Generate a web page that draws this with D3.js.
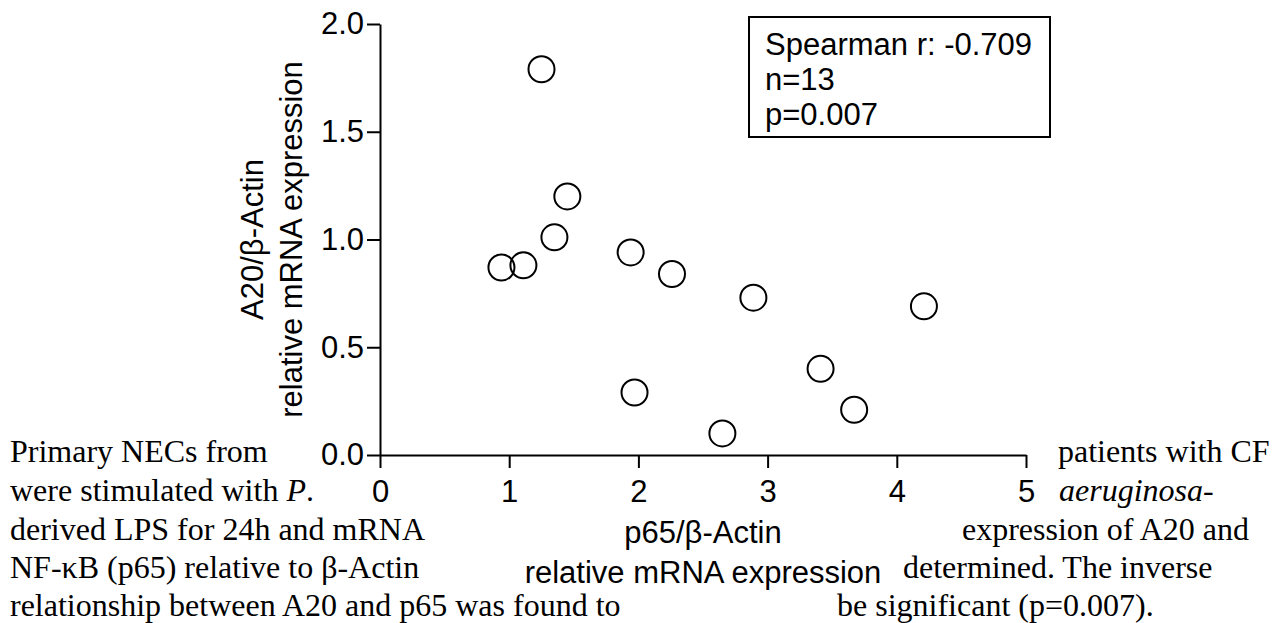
<!DOCTYPE html>
<html>
<head>
<meta charset="utf-8">
<script src="https://cdn.jsdelivr.net/npm/d3@7"></script>
<style>
  html, body { margin: 0; padding: 0; background: #fff; }
  svg { display: block; }
</style>
</head>
<body>
<svg id="chart" width="1281" height="623"></svg>
<script>
// ---- data ----
const p65 = [0.94, 1.11, 1.25, 1.35, 1.45, 1.94, 1.97, 2.26, 2.65, 2.89, 3.41, 3.67, 4.21];
const a20 = [0.87, 0.88, 1.79, 1.01, 1.20, 0.94, 0.29, 0.84, 0.10, 0.73, 0.40, 0.21, 0.69];
const xTicks = [0, 1, 2, 3, 4, 5];
const yTicks = [0, 0.5, 1.0, 1.5, 2.0];
const xLabelLines = ["p65/\u03B2-Actin", "relative mRNA expression"];
const yLabelLines = ["A20/\u03B2-Actin", "relative mRNA expression"];
const statLines = ["Spearman r: -0.709", "n=13", "p=0.007"];
const leftText = [
  [["Primary NECs from", false]],
  [["were stimulated with ", false], ["P", true], [".", false]],
  [["derived LPS for 24h and mRNA", false]],
  [["NF-\u03BAB (p65) relative to \u03B2-Actin", false]],
  [["relationship between A20 and p65 was found to", false]]
];
const rightText = [
  [["patients with CF", false]],
  [["aeruginosa", true], ["-", false]],
  [["expression of A20 and", false]],
  [["determined. The inverse", false]],
  [["be significant (p=0.007).", false]]
];
const rightStarts = [1058, 1059, 962, 903, 837];
const textBaselines = [462, 501, 540, 578, 616];

const svg = d3.select("#chart");
svg.append("rect").attr("width", 1281).attr("height", 623).attr("fill", "#fff");

const sans = "'Liberation Sans', Arial, Helvetica, sans-serif";
const serif = "'Liberation Serif', 'Times New Roman', Times, serif";
const fs = 31;

// ---- body paragraph fragments ----
function drawFrag(lines, xs, anchor) {
  lines.forEach((parts, i) => {
    const t = svg.append("text")
      .attr("x", Array.isArray(xs) ? xs[i] : xs)
      .attr("y", textBaselines[i])
      .attr("text-anchor", anchor)
      .attr("font-family", serif)
      .attr("font-size", 32)
      .attr("fill", "#000");
    parts.forEach(([s, it]) => {
      t.append("tspan").attr("font-style", it ? "italic" : "normal").text(s);
    });
  });
}
drawFrag(leftText, 10, "start");
drawFrag(rightText, rightStarts, "start");

// ---- scales ----
const x = d3.scaleLinear().domain([0, 5]).range([380, 1026]);
const y = d3.scaleLinear().domain([0, 2]).range([455, 24]);

// ---- axes ----
const gx = svg.append("g").attr("transform", `translate(0,${y(0)})`)
  .call(d3.axisBottom(x).tickValues(xTicks).tickFormat(d3.format("d"))
    .tickSize(13).tickSizeOuter(0).tickPadding(12));
const gy = svg.append("g").attr("transform", `translate(${x(0)},0)`)
  .call(d3.axisLeft(y).tickValues(yTicks).tickFormat(d3.format(".1f"))
    .tickSize(13).tickSizeOuter(0).tickPadding(3));

[gx, gy].forEach(g => {
  g.select(".domain").attr("stroke", "#000").attr("stroke-width", 2);
  g.selectAll(".tick line").attr("stroke", "#000").attr("stroke-width", 2);
  g.selectAll(".tick text").attr("font-family", sans).attr("font-size", fs).attr("fill", "#000");
});

// ---- axis titles ----
const xl = svg.append("text").attr("text-anchor", "middle")
  .attr("font-family", sans).attr("font-size", fs).attr("fill", "#000");
xLabelLines.forEach((s, i) => {
  xl.append("tspan").attr("x", (x(0) + x(5)) / 2).attr("y", 543 + i * 40).text(s);
});

const yl = svg.append("g").attr("transform", `translate(0,${(y(0) + y(2)) / 2}) rotate(-90)`);
yLabelLines.forEach((s, i) => {
  yl.append("text").attr("x", 0).attr("y", 263 + i * 39)
    .attr("text-anchor", "middle")
    .attr("font-family", sans).attr("font-size", fs).attr("fill", "#000")
    .text(s);
});

// ---- points ----
svg.append("g").selectAll("circle")
  .data(p65.map((v, i) => [v, a20[i]]))
  .join("circle")
  .attr("cx", d => x(d[0]))
  .attr("cy", d => y(d[1]))
  .attr("r", 13)
  .attr("fill", "none")
  .attr("stroke", "#000")
  .attr("stroke-width", 2);

// ---- stats box ----
svg.append("rect").attr("x", 749).attr("y", 17).attr("width", 301).attr("height", 120)
  .attr("fill", "#fff").attr("stroke", "#000").attr("stroke-width", 2);
statLines.forEach((s, i) => {
  svg.append("text").attr("x", 765).attr("y", 55 + i * 35)
    .attr("font-family", sans).attr("font-size", fs).attr("fill", "#000").text(s);
});
</script>
</body>
</html>
